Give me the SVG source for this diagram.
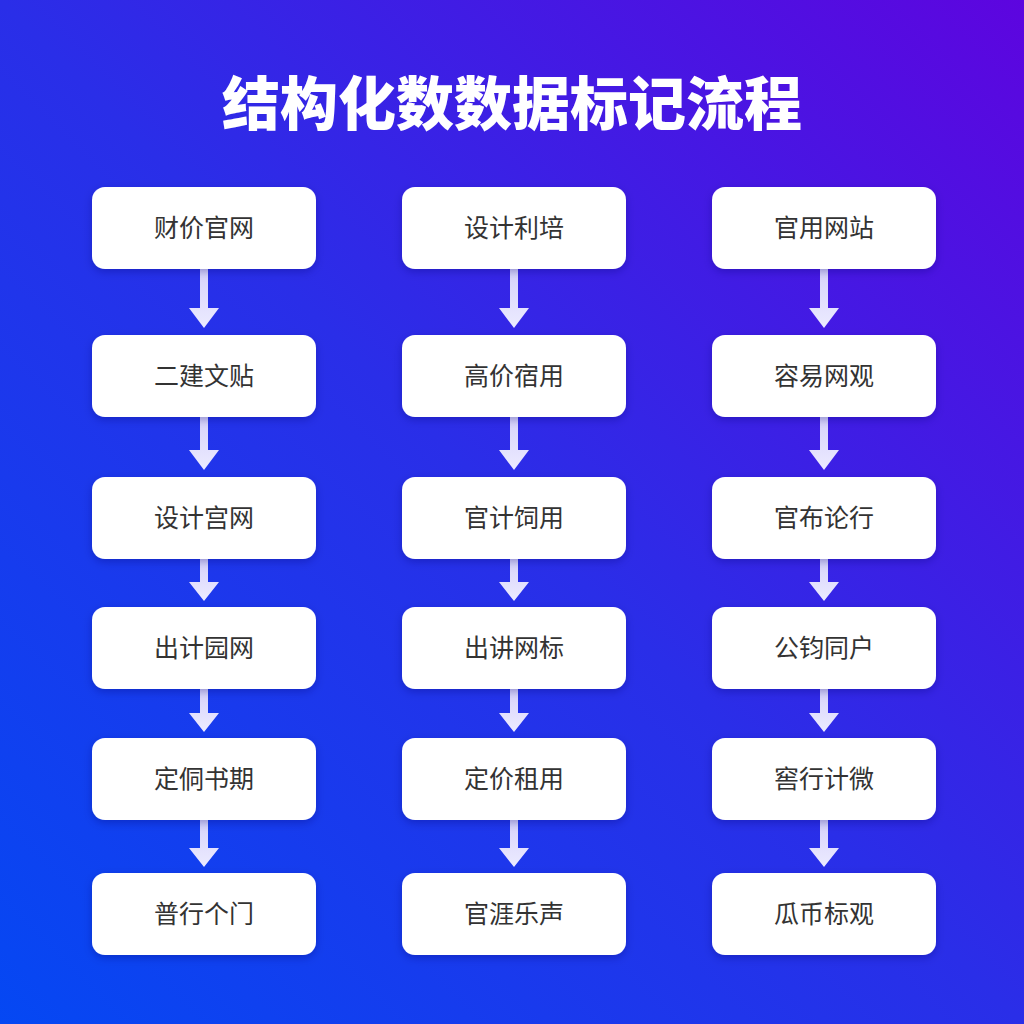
<svg xmlns="http://www.w3.org/2000/svg" width="1024" height="1024" viewBox="0 0 1024 1024">
<defs>
<linearGradient id="bg" x1="0" y1="1" x2="1" y2="0">
<stop offset="0" stop-color="#0548f3"/>
<stop offset="0.5" stop-color="#2a2ee8"/>
<stop offset="1" stop-color="#5d05df"/>
</linearGradient>
<linearGradient id="ar" x1="0" y1="0" x2="0" y2="1">
<stop offset="0" stop-color="#d6d2fb"/>
<stop offset="1" stop-color="#ecebff"/>
</linearGradient>
<filter id="sh" x="-10%" y="-20%" width="120%" height="150%">
<feDropShadow dx="0" dy="3" stdDeviation="4" flood-color="#10106a" flood-opacity="0.3"/>
</filter>
</defs>
<style>
.box{fill:#ffffff;filter:url(#sh)}
.lbl{font-family:"Noto Sans CJK SC","Noto Sans",sans-serif;font-size:25px;fill:#333333;text-anchor:middle}
.title{font-family:"Noto Sans CJK SC","Noto Sans",sans-serif;font-size:58px;font-weight:900;fill:#ffffff;text-anchor:middle}
.arr{fill:url(#ar)}
</style>
<rect width="1024" height="1024" fill="url(#bg)"/>
<text class="title" x="512" y="125">结构化数数据标记流程</text>
<g id="connectors">
<path class="arr" d="M200 269h8v39h11l-15 20l-15-20h11z"/>
<path class="arr" d="M200 417h8v33h11l-15 20l-15-20h11z"/>
<path class="arr" d="M200 559h8v23h11l-15 19l-15-19h11z"/>
<path class="arr" d="M200 689h8v24h11l-15 19l-15-19h11z"/>
<path class="arr" d="M200 820h8v28h11l-15 19l-15-19h11z"/>
<path class="arr" d="M510 269h8v39h11l-15 20l-15-20h11z"/>
<path class="arr" d="M510 417h8v33h11l-15 20l-15-20h11z"/>
<path class="arr" d="M510 559h8v23h11l-15 19l-15-19h11z"/>
<path class="arr" d="M510 689h8v24h11l-15 19l-15-19h11z"/>
<path class="arr" d="M510 820h8v28h11l-15 19l-15-19h11z"/>
<path class="arr" d="M820 269h8v39h11l-15 20l-15-20h11z"/>
<path class="arr" d="M820 417h8v33h11l-15 20l-15-20h11z"/>
<path class="arr" d="M820 559h8v23h11l-15 19l-15-19h11z"/>
<path class="arr" d="M820 689h8v24h11l-15 19l-15-19h11z"/>
<path class="arr" d="M820 820h8v28h11l-15 19l-15-19h11z"/>
</g>
<g id="n1-1"><rect class="box" x="92" y="187" width="224" height="82" rx="13"/><text class="lbl" x="204" y="237">财价官网</text></g>
<g id="n1-2"><rect class="box" x="92" y="335" width="224" height="82" rx="13"/><text class="lbl" x="204" y="385">二建文贴</text></g>
<g id="n1-3"><rect class="box" x="92" y="477" width="224" height="82" rx="13"/><text class="lbl" x="204" y="527">设计宫网</text></g>
<g id="n1-4"><rect class="box" x="92" y="607" width="224" height="82" rx="13"/><text class="lbl" x="204" y="657">出计园网</text></g>
<g id="n1-5"><rect class="box" x="92" y="738" width="224" height="82" rx="13"/><text class="lbl" x="204" y="788">定侗书期</text></g>
<g id="n1-6"><rect class="box" x="92" y="873" width="224" height="82" rx="13"/><text class="lbl" x="204" y="923">普行个门</text></g>
<g id="n2-1"><rect class="box" x="402" y="187" width="224" height="82" rx="13"/><text class="lbl" x="514" y="237">设计利培</text></g>
<g id="n2-2"><rect class="box" x="402" y="335" width="224" height="82" rx="13"/><text class="lbl" x="514" y="385">高价宿用</text></g>
<g id="n2-3"><rect class="box" x="402" y="477" width="224" height="82" rx="13"/><text class="lbl" x="514" y="527">官计饲用</text></g>
<g id="n2-4"><rect class="box" x="402" y="607" width="224" height="82" rx="13"/><text class="lbl" x="514" y="657">出讲网标</text></g>
<g id="n2-5"><rect class="box" x="402" y="738" width="224" height="82" rx="13"/><text class="lbl" x="514" y="788">定价租用</text></g>
<g id="n2-6"><rect class="box" x="402" y="873" width="224" height="82" rx="13"/><text class="lbl" x="514" y="923">官涯乐声</text></g>
<g id="n3-1"><rect class="box" x="712" y="187" width="224" height="82" rx="13"/><text class="lbl" x="824" y="237">官用网站</text></g>
<g id="n3-2"><rect class="box" x="712" y="335" width="224" height="82" rx="13"/><text class="lbl" x="824" y="385">容易网观</text></g>
<g id="n3-3"><rect class="box" x="712" y="477" width="224" height="82" rx="13"/><text class="lbl" x="824" y="527">官布论行</text></g>
<g id="n3-4"><rect class="box" x="712" y="607" width="224" height="82" rx="13"/><text class="lbl" x="824" y="657">公钧同户</text></g>
<g id="n3-5"><rect class="box" x="712" y="738" width="224" height="82" rx="13"/><text class="lbl" x="824" y="788">窖行计微</text></g>
<g id="n3-6"><rect class="box" x="712" y="873" width="224" height="82" rx="13"/><text class="lbl" x="824" y="923">瓜币标观</text></g>
</svg>
